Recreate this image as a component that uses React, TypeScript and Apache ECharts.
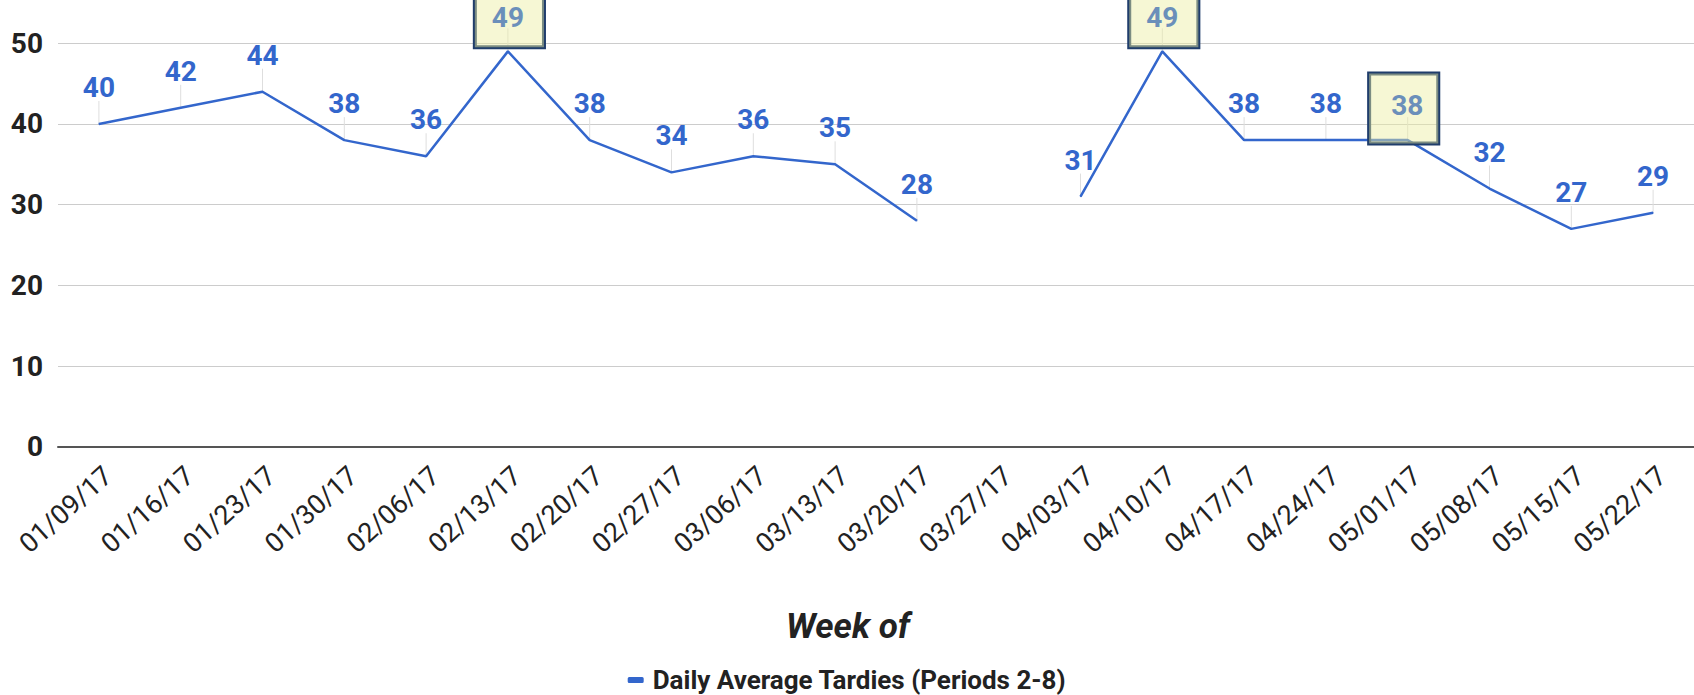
import React, { useEffect, useRef } from "react";
import * as echarts from "echarts";

const weeks = [
  "01/09/17", "01/16/17", "01/23/17", "01/30/17", "02/06/17", "02/13/17", "02/20/17",
  "02/27/17", "03/06/17", "03/13/17", "03/20/17", "03/27/17", "04/03/17", "04/10/17",
  "04/17/17", "04/24/17", "05/01/17", "05/08/17", "05/15/17", "05/22/17",
];
const tardies: (number | null)[] = [
  40, 42, 44, 38, 36, 49, 38, 34, 36, 35, 28, null, 31, 49, 38, 38, 38, 32, 27, 29,
];
const highlightedWeeks = ["02/13/17", "04/10/17", "05/01/17"];
const yTicks = [0, 10, 20, 30, 40, 50];
const seriesName = "Daily Average Tardies (Periods 2-8)";
const xAxisTitle = "Week of";

const BLUE = "#3366cc";
const FONT = "Roboto, 'Noto Sans', Arial, sans-serif";

export default function App() {
  const ref = useRef<HTMLDivElement>(null);

  useEffect(() => {
    if (!ref.current) return;
    const chart = echarts.init(ref.current, undefined, { renderer: "svg" });

    const lineData = tardies.map((v, i) => {
      if (v === null) return null;
      if (!highlightedWeeks.includes(weeks[i])) return v;
      const high = v >= 45;
      return {
        value: v,
        label: {
          color: "#6b8fba",
          backgroundColor: "rgba(234,238,160,0.45)",
          borderColor: "#1f3d6b",
          borderWidth: 2,
          padding: high ? [26, 20, 16, 17] : [18, 15, 24, 22],
          offset: high ? [1.5, 18.4] : [-4, 26],
        },
      };
    });

    const leaderData = tardies
      .map((v, i) => (v === null ? null : [i, v]))
      .filter((d) => d !== null);

    chart.setOption({
      animation: false,
      grid: { left: 58, width: 1638, top: 43.3, height: 403.4 },
      legend: {
        top: 661,
        left: "center",
        icon: "roundRect",
        itemWidth: 16,
        itemHeight: 6,
        itemGap: 10,
        textStyle: {
          fontFamily: FONT,
          fontSize: 26,
          lineHeight: 28,
          fontWeight: "bold",
          color: "#222",
          padding: [0, 0, 0, 4],
        },
        data: [seriesName],
      },
      xAxis: {
        type: "category",
        data: weeks,
        boundaryGap: true,
        axisTick: { show: false },
        axisLine: { show: true, lineStyle: { color: "#555", width: 2 } },
        axisLabel: {
          interval: 0,
          rotate: 42,
          margin: 15,
          verticalAlign: "top",
          fontFamily: FONT,
          fontSize: 27,
          color: "#222",
        },
        name: xAxisTitle,
        nameLocation: "middle",
        nameGap: 162,
        nameTextStyle: {
          fontFamily: FONT,
          fontSize: 35,
          fontWeight: "bold",
          fontStyle: "italic",
          color: "#222",
          padding: [0, 56, 0, 0],
        },
      },
      yAxis: {
        type: "value",
        min: yTicks[0],
        max: yTicks[yTicks.length - 1],
        interval: 10,
        axisLine: { show: false },
        axisTick: { show: false },
        splitLine: { lineStyle: { color: "#cccccc", width: 1 } },
        axisLabel: {
          margin: 15,
          fontFamily: FONT,
          fontSize: 28,
          fontWeight: "bold",
          color: "#222",
        },
      },
      series: [
        {
          type: "custom",
          name: "leaders",
          z: 1,
          silent: true,
          data: leaderData,
          renderItem: (params: any, api: any) => {
            const p = api.coord([api.value(0), api.value(1)]);
            return {
              type: "line",
              shape: { x1: p[0], y1: p[1], x2: p[0], y2: p[1] - 23 },
              style: { stroke: "#dedede", lineWidth: 1 },
            };
          },
        },
        {
          type: "line",
          name: seriesName,
          z: 2,
          data: lineData,
          connectNulls: false,
          symbol: "circle",
          symbolSize: 1,
          showSymbol: true,
          itemStyle: { color: BLUE },
          lineStyle: { color: BLUE, width: 2.5 },
          emphasis: { disabled: true },
          label: {
            show: true,
            position: "top",
            distance: 22,
            fontFamily: FONT,
            fontSize: 28,
            lineHeight: 28,
            fontWeight: "bold",
            color: BLUE,
          },
        },
      ],
    });

    return () => chart.dispose();
  }, []);

  return (
    <div
      ref={ref}
      style={{ position: "fixed", left: 0, top: 0, width: 1694, height: 695, background: "#fff" }}
    />
  );
}
